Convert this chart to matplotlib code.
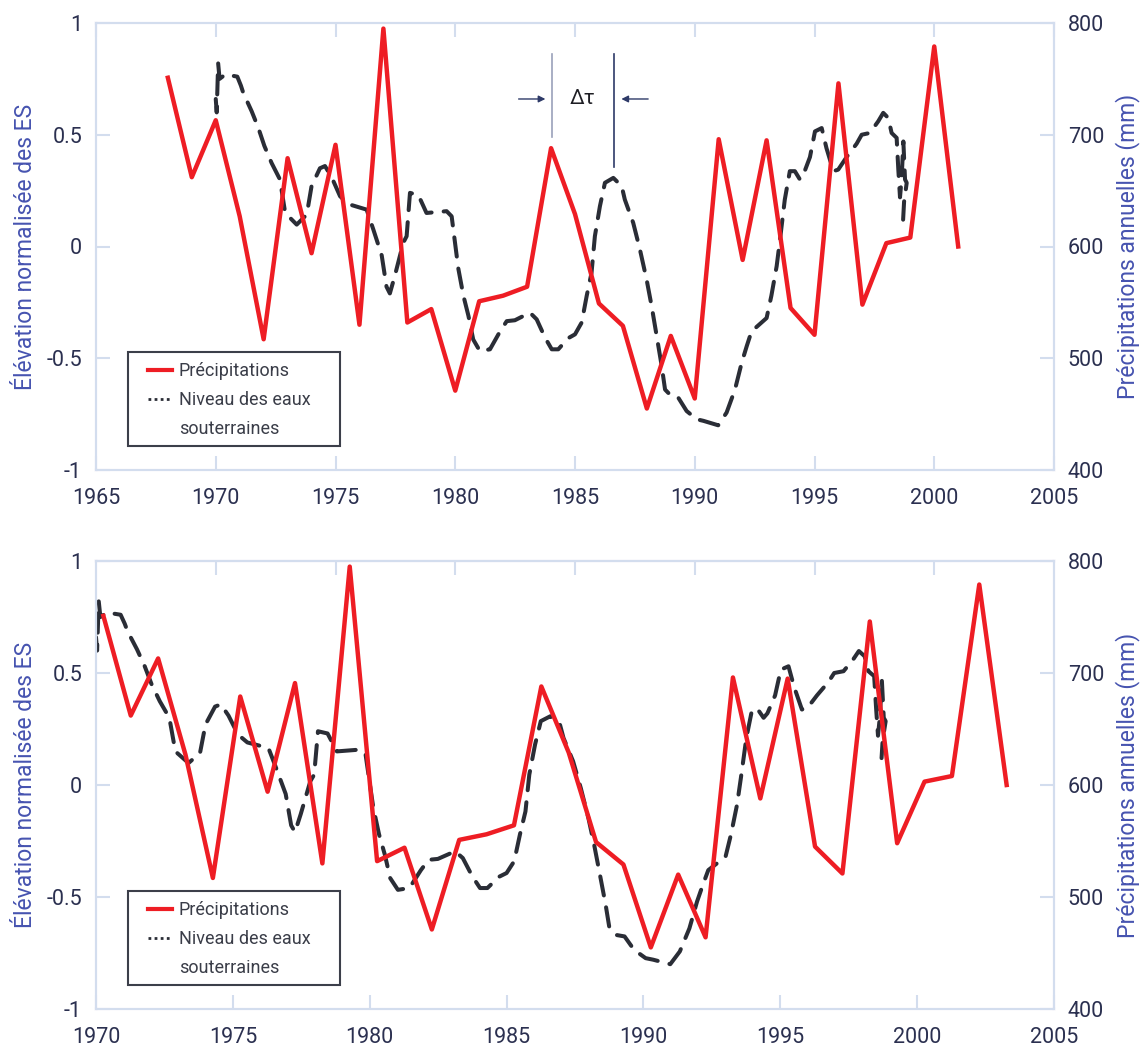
import numpy as np
import matplotlib
matplotlib.use('Agg')
import matplotlib.pyplot as plt
from matplotlib.lines import Line2D
from matplotlib.patches import Rectangle

plt.rcParams['font.family'] = ['Roboto', 'DejaVu Sans']
plt.rcParams['axes.unicode_minus'] = False

# ── Data ─────────────────────────────────────────────────────────────────────
precip_years = np.arange(1968, 2002)
precip_mm = [751, 662, 713, 627, 517, 679, 594, 691, 530, 795,
             532, 544, 471, 551, 556, 564, 688, 629, 549, 529,
             455, 520, 464, 696, 588, 695, 545, 521, 746, 548,
             603, 608, 779, 600]

gw_years = [1970.0, 1970.04, 1970.1, 1970.16, 1970.4, 1970.9, 1971.05, 1971.15,
            1971.5, 1971.78, 1972.03, 1972.33, 1972.68, 1972.9, 1973.38, 1973.8,
            1974.0, 1974.35, 1974.56, 1974.84, 1975.19, 1975.53, 1976.3, 1976.58,
            1976.93, 1977.13, 1977.27, 1977.48, 1977.83, 1977.97, 1978.11, 1978.46,
            1978.8, 1979.64, 1979.85, 1979.99, 1980.13, 1980.34, 1980.55, 1980.75,
            1981.03, 1981.45, 1981.87, 1982.15, 1982.49, 1983.12, 1983.4, 1983.75,
            1984.03, 1984.3, 1984.72, 1985.0, 1985.28, 1985.49, 1985.69, 1985.83,
            1986.04, 1986.25, 1986.6, 1986.95, 1987.08, 1987.43, 1987.71, 1987.99,
            1988.2, 1988.41, 1988.62, 1988.76, 1989.03, 1989.31, 1989.66, 1990.08,
            1990.36, 1990.98, 1991.33, 1991.68, 1991.96, 1992.17, 1992.37, 1993.0,
            1993.2, 1993.42, 1993.56, 1993.76, 1993.97, 1994.18, 1994.39, 1994.53,
            1994.81, 1995.02, 1995.3, 1995.5, 1995.79, 1995.99, 1996.34, 1996.76,
            1996.97, 1997.31, 1997.66, 1997.87, 1998.08, 1998.22, 1998.43, 1998.5,
            1998.57, 1998.64, 1998.71, 1998.78, 1998.85, 1998.74, 1998.7]
gw_level = [0.66, 0.60, 0.82, 0.75, 0.77, 0.76, 0.72, 0.687,
            0.605, 0.53, 0.45, 0.374, 0.30, 0.15, 0.098, 0.143,
            0.27, 0.35, 0.36, 0.31, 0.225, 0.19, 0.165, 0.076,
            -0.04, -0.18, -0.21, -0.13, 0.017, 0.046, 0.24, 0.23,
            0.15, 0.158, 0.135, 0.017, -0.10, -0.22, -0.31, -0.416,
            -0.468, -0.46, -0.38, -0.334, -0.33, -0.296, -0.326, -0.408,
            -0.46, -0.46, -0.41, -0.393, -0.34, -0.22, -0.118, 0.046,
            0.18, 0.285, 0.307, 0.27, 0.21, 0.106, -0.013, -0.148,
            -0.267, -0.40, -0.535, -0.64, -0.67, -0.676, -0.736, -0.773,
            -0.78, -0.80, -0.743, -0.64, -0.52, -0.446, -0.38, -0.32,
            -0.22, -0.088, 0.031, 0.21, 0.337, 0.337, 0.30, 0.32,
            0.40, 0.515, 0.53, 0.44, 0.337, 0.344, 0.40, 0.46,
            0.50, 0.508, 0.56, 0.598, 0.575, 0.508, 0.486, 0.344,
            0.22, 0.307, 0.47, 0.30, 0.285, 0.20, 0.12]

LAG = 2.27                       # shift applied to precipitation in lower panel
PEAK_PRECIP, PEAK_GW = 1984.03, 1986.62

left_ticks = [-1, -0.5, 0, 0.5, 1]
left_labels = ['-1', '-0.5', '0', '0.5', '1']
right_ticks = [400, 500, 600, 700, 800]

RED = '#ee1d24'
DARK = '#2a2d36'
SPINE = '#d3ddee'
TXT = '#2b3050'
LBL = '#4653b0'
NAVY = '#2e3a68'

# ── Plot ─────────────────────────────────────────────────────────────────────
fig = plt.figure(figsize=(11.41, 10.46), dpi=100)
W, H = 1141, 1046


def style(ax):
    for s in ax.spines.values():
        s.set_color(SPINE)
        s.set_linewidth(1.5)
    ax.tick_params(direction='in', length=10, width=1.5, color=SPINE,
                   labelcolor=TXT, labelsize=15.5)


def panel(top_px, bot_px, xmin, shift, annotate):
    h_px = bot_px - top_px
    ax = fig.add_axes([96 / W, 1 - bot_px / H, 958 / W, h_px / H])
    ax.plot(gw_years, gw_level, color=DARK, lw=2.9, dashes=(4.8, 3.0),
            dash_capstyle='round', solid_capstyle='round')
    ax.set_ylim(-1, 1)
    ax.set_yticks(left_ticks)
    ax.set_yticklabels(left_labels)
    ax.set_xlim(xmin, 2005)
    ax.set_xticks(np.arange(xmin, 2006, 5))
    style(ax)
    ax.tick_params(axis='x', top=(xmin == 1965), pad=13)
    ax.tick_params(axis='y', pad=10)
    ax.set_ylabel('Élévation normalisée des ES', color=LBL, fontsize=16.5,
                  labelpad=7)

    ax2 = ax.twinx()
    ax2.plot(precip_years + shift, precip_mm, color=RED, lw=3.2)
    ax2.set_ylim(400, 800)
    ax2.set_yticks(right_ticks)
    style(ax2)
    ax2.tick_params(axis='y', pad=10)
    ax2.set_ylabel('Précipitations annuelles (mm)', color=LBL, fontsize=16.5,
                   labelpad=8)

    if xmin != 1965:
        # ticks on the top spine follow the upper panel's 1965-2005 grid
        fwd = lambda x: 1965 + (x - xmin) * 40 / (2005 - xmin)
        inv = lambda t: xmin + (t - 1965) * (2005 - xmin) / 40
        sec = ax.secondary_xaxis('top', functions=(fwd, inv))
        sec.set_xticks(np.arange(1970, 2001, 5))
        sec.tick_params(direction='in', length=10, width=1.5, color=SPINE,
                        labeltop=False)
        sec.spines['top'].set_color(SPINE)
        sec.spines['top'].set_linewidth(1.5)

    # legend: three rows, the wrapped label gets its own (empty-handle) row
    ax2.add_patch(Rectangle((32 / 958, 24 / h_px), 212 / 958, 94 / h_px,
                            transform=ax2.transAxes, facecolor='white',
                            edgecolor='#3c3f4a', lw=1.5, zorder=4))
    handles = [Line2D([], [], color=RED, lw=3),
               Line2D([], [], color=DARK, lw=2, ls=(0, (1, 1.2))),
               Line2D([], [], color='none')]
    leg = ax2.legend(handles, ['Précipitations', 'Niveau des eaux', 'souterraines'],
                     loc='upper left', bbox_to_anchor=(52 / 958, 108 / h_px),
                     borderaxespad=0, borderpad=0, fontsize=13, frameon=False,
                     handlelength=1.35, handletextpad=0.35, labelspacing=0.62)
    leg.set_zorder(6)
    for t in leg.get_texts():
        t.set_color('#3a3d48')

    if annotate:
        ax.plot([PEAK_PRECIP, PEAK_PRECIP], [0.49, 0.86], color='#9aa1ba', lw=1.2)
        ax.plot([PEAK_GW, PEAK_GW], [0.355, 0.86], color=NAVY, lw=1.2)
        arrow = dict(arrowstyle='-|>', color=NAVY, lw=1, mutation_scale=10)
        ax.annotate('', xy=(PEAK_PRECIP - 0.15, 0.66), xytext=(PEAK_PRECIP - 1.5, 0.66),
                    arrowprops=arrow)
        ax.annotate('', xy=(PEAK_GW + 0.2, 0.66), xytext=(PEAK_GW + 1.55, 0.66),
                    arrowprops=arrow)
        ax.text((PEAK_PRECIP + PEAK_GW) / 2, 0.66, 'Δτ', ha='center', va='center',
                fontsize=15, color='#1e1e24')
    return ax


panel(23, 470, 1965, 0, True)
panel(561, 1009, 1970, LAG, False)

plt.savefig('out.png', dpi=100)
